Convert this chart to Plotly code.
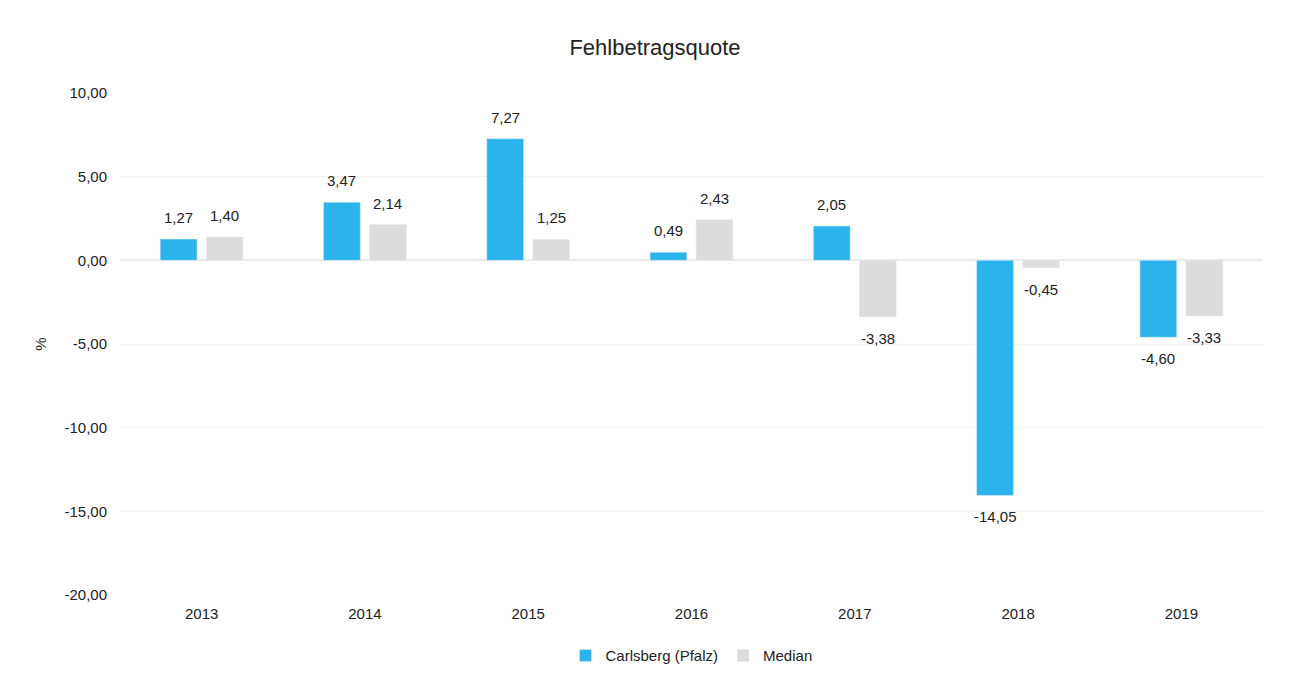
import plotly.graph_objects as go

years = ["2013", "2014", "2015", "2016", "2017", "2018", "2019"]
carlsberg = [1.27, 3.47, 7.27, 0.49, 2.05, -14.05, -4.60]
median = [1.40, 2.14, 1.25, 2.43, -3.38, -0.45, -3.33]
y_ticks = [10, 5, 0, -5, -10, -15, -20]
y_tick_labels = ["10,00", "5,00", "0,00", "-5,00", "-10,00", "-15,00", "-20,00"]

font = "Liberation Sans, Arial, sans-serif"

fig = go.Figure()
fig.add_trace(go.Bar(x=years, y=carlsberg, name="Carlsberg (Pfalz)",
                     marker_color="#2BB4EC"))
fig.add_trace(go.Bar(x=years, y=median, name="Median",
                     marker_color="#DCDCDC"))

# value labels, offset a little from the bar ends like the original
# (on a category axis annotations take the category index)
for values, xshift in [(carlsberg, -23), (median, 23)]:
    for i, v in enumerate(values):
        fig.add_annotation(
            x=i, y=v, xshift=xshift,
            yshift=11 if v >= 0 else -11,
            yanchor="bottom" if v >= 0 else "top",
            text=f"{v:.2f}".replace(".", ","),
            showarrow=False, font=dict(size=15, color="#222"),
        )

fig.update_layout(
    width=1294, height=681,
    title=dict(text="Fehlbetragsquote", x=0.5, y=0.953, xanchor="center",
               font=dict(size=22, color="#222", family=font)),
    font=dict(family=font, size=15, color="#222"),
    plot_bgcolor="white", paper_bgcolor="white",
    barmode="group", bargap=0.436, bargroupgap=0.2,
    margin=dict(l=112, r=39, t=85, b=94),
    showlegend=True,
    legend=dict(orientation="h", x=0.5, xanchor="center", y=-0.121, yanchor="middle",
                font=dict(size=15), itemwidth=30),
    xaxis=dict(type="category", showgrid=False, showline=False, ticks="",
               tickfont=dict(size=15), ticklabelstandoff=8),
    yaxis=dict(range=[-20, 10], tickvals=y_ticks, ticktext=y_tick_labels,
               gridcolor="#F0F0F0", zeroline=True, zerolinecolor="#EAEAEA",
               title=dict(text="%", standoff=14, font=dict(size=15)),
               tickfont=dict(size=15), ticklabelstandoff=12),
)

fig.write_html("out.html")
